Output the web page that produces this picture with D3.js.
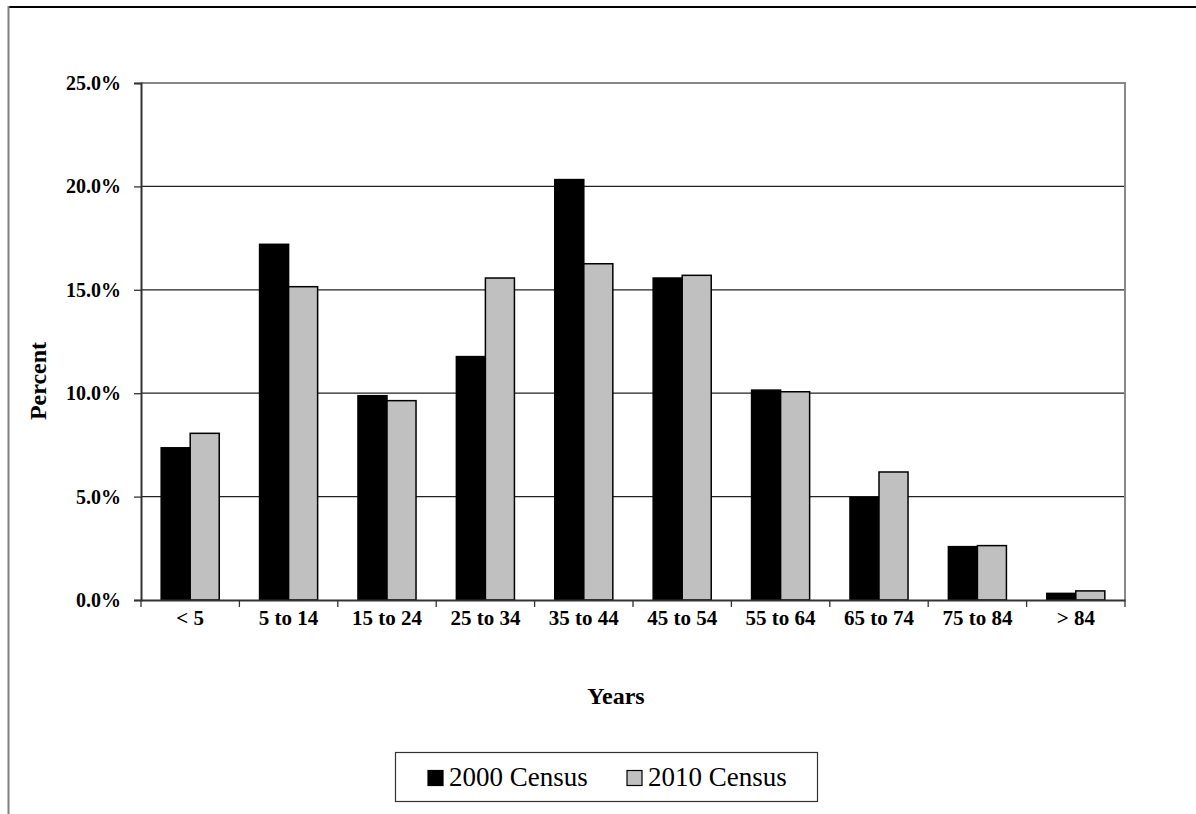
<!DOCTYPE html>
<html>
<head>
<meta charset="utf-8">
<script src="https://cdn.jsdelivr.net/npm/d3@7"></script>
<style>
  html, body { margin: 0; padding: 0; background: #fff; }
  svg { display: block; }
</style>
</head>
<body>
<svg id="chart" width="1196" height="814"></svg>
<script>
const categories = ["< 5", "5 to 14", "15 to 24", "25 to 34", "35 to 44", "45 to 54", "55 to 64", "65 to 74", "75 to 84", "> 84"];
const seriesNames = ["2000 Census", "2010 Census"];
const census2000 = [7.36, 17.2, 9.88, 11.77, 20.33, 15.57, 10.15, 4.96, 2.58, 0.32];
const census2010 = [8.06, 15.15, 9.64, 15.57, 16.26, 15.70, 10.07, 6.19, 2.63, 0.44];
const yTicks = [0, 5, 10, 15, 20, 25];
const colors = ["#000000", "#c0c0c0"];

const seriesValues = [census2000, census2010];
const svg = d3.select("#chart");
const FONT = "'Liberation Serif', 'Times New Roman', serif";

const plot = { left: 141, right: 1125, top: 83, bottom: 600 };

// outer frame
svg.append("line").attr("x1", 8).attr("x2", 1196).attr("y1", 7).attr("y2", 7)
  .attr("stroke", "#000").attr("stroke-width", 2);
svg.append("line").attr("x1", 8.5).attr("x2", 8.5).attr("y1", 6).attr("y2", 814)
  .attr("stroke", "#808080").attr("stroke-width", 2);

const x = d3.scaleBand().domain(categories).range([plot.left, plot.right])
  .paddingInner(0.41).paddingOuter(0.205);
const x1 = d3.scaleBand().domain(seriesNames).range([0, x.bandwidth()]);
const y = d3.scaleLinear().domain([0, 25]).range([plot.bottom, plot.top]);

// gridlines
svg.append("g").selectAll("line").data(yTicks.filter(t => t > 0 && t < 25)).join("line")
  .attr("x1", plot.left).attr("x2", plot.right)
  .attr("y1", d => y(d)).attr("y2", d => y(d))
  .attr("stroke", "#222").attr("stroke-width", 1.3);
// top and right border of plot area (gray)
svg.append("path")
  .attr("d", `M${plot.left},${y(25)}H${plot.right}V${plot.bottom}`)
  .attr("fill", "none").attr("stroke", "#888").attr("stroke-width", 2);

// bars
const groups = svg.append("g").selectAll("g").data(categories).join("g")
  .attr("transform", d => `translate(${x(d)},0)`);
groups.selectAll("rect").data((c, i) => seriesNames.map((s, k) => ({ s, k, v: seriesValues[k][i] })))
  .join("rect")
  .attr("x", d => x1(d.s))
  .attr("width", x1.bandwidth())
  .attr("y", d => y(d.v))
  .attr("height", d => y(0) - y(d.v))
  .attr("fill", d => colors[d.k])
  .attr("stroke", "#000").attr("stroke-width", 1.5);

// y axis
const yAxis = d3.axisLeft(y).tickValues(yTicks).tickSize(7).tickPadding(13)
  .tickFormat(d => d.toFixed(1) + "%");
const gy = svg.append("g").attr("transform", `translate(${plot.left},0)`).call(yAxis);
gy.select(".domain").attr("stroke", "#333").attr("stroke-width", 2);
gy.selectAll(".tick line").attr("stroke", "#333").attr("stroke-width", 1.3);
gy.selectAll("text").attr("font-family", FONT).attr("font-weight", "bold")
  .attr("font-size", 20).attr("fill", "#000");

// x axis
const xAxis = d3.axisBottom(x).tickSize(0).tickPadding(0);
const gx = svg.append("g").attr("transform", `translate(0,${plot.bottom})`).call(xAxis);
gx.select(".domain").attr("stroke", "#333").attr("stroke-width", 2);
gx.selectAll("text").attr("font-family", FONT).attr("font-weight", "bold")
  .attr("font-size", 21).attr("fill", "#000").attr("dy", null).attr("y", 25);
// category boundary ticks
const bounds = categories.map(c => x(c) - x.step() * x.paddingOuter()).concat([plot.right]);
gx.append("g").selectAll("line").data(bounds).join("line")
  .attr("x1", d => d).attr("x2", d => d).attr("y1", 0).attr("y2", 7)
  .attr("stroke", "#333").attr("stroke-width", 1.3);

// axis titles
svg.append("text").attr("x", 616).attr("y", 704).attr("text-anchor", "middle")
  .attr("font-family", FONT).attr("font-weight", "bold").attr("font-size", 24)
  .text("Years");
svg.append("text").attr("transform", "translate(46,381) rotate(-90)").attr("text-anchor", "middle")
  .attr("font-family", FONT).attr("font-weight", "bold").attr("font-size", 24)
  .text("Percent");

// legend
const lg = svg.append("g");
lg.append("rect").attr("x", 395.5).attr("y", 752.5).attr("width", 422).attr("height", 49)
  .attr("fill", "#fff").attr("stroke", "#333").attr("stroke-width", 1.2);
const legendX = [428, 627];
seriesNames.forEach((s, k) => {
  lg.append("rect").attr("x", legendX[k]).attr("y", 770.5).attr("width", 15).attr("height", 15)
    .attr("fill", colors[k]).attr("stroke", "#000").attr("stroke-width", 1.2);
  lg.append("text").attr("x", legendX[k] + 21).attr("y", 786)
    .attr("font-family", FONT).attr("font-size", 27).attr("fill", "#000").text(s);
});
</script>
</body>
</html>
